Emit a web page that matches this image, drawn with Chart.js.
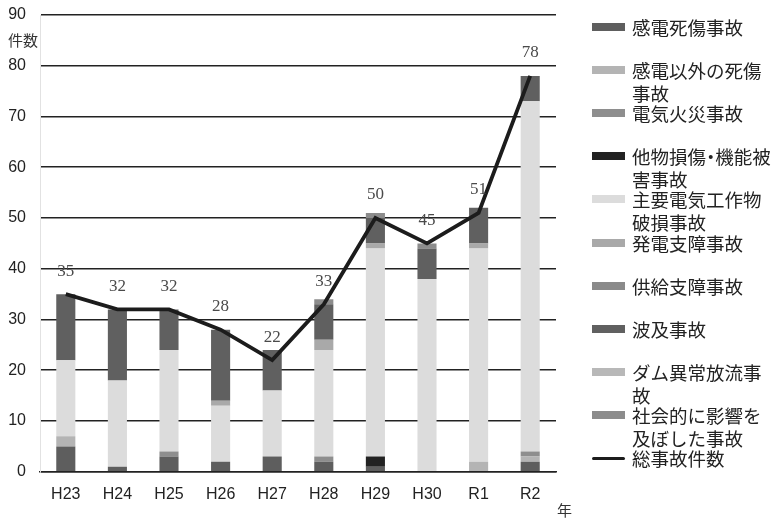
<!DOCTYPE html>
<html lang="ja">
<head>
<meta charset="utf-8">
<script src="https://cdn.jsdelivr.net/npm/chart.js@4.4.1/dist/chart.umd.min.js"></script>
<style>
  html, body { margin: 0; padding: 0; background: #fff; }
  #wrap { position: relative; width: 780px; height: 521px; }
  #legend {
    position: absolute; left: 592px; top: 0; width: 188px;
    font-family: "Noto Sans CJK JP", sans-serif; font-size: 18.5px; color: #222;
  }
  .item { position: absolute; left: 0; line-height: 23px; white-space: nowrap; }
  .swatch { position: absolute; left: 0; top: 7px; width: 33px; height: 8px; }
  .swatch.line { top: 10px; height: 3px; border-radius: 2px; }
  .label { margin-left: 40px; }
  .narrow { margin: 0 -0.25em; }
</style>
</head>
<body>
<div id="wrap">
  <canvas id="accidentChart" width="780" height="521"></canvas>
  <div id="legend"></div>
</div>
<script>
/* ==============================
   DATA
============================== */
const years = ["H23", "H24", "H25", "H26", "H27", "H28", "H29", "H30", "R1", "R2"];

const seriesNames = [
  "感電死傷事故",
  "感電以外の死傷事故",
  "電気火災事故",
  "他物損傷・機能被害事故",
  "主要電気工作物破損事故",
  "発電支障事故",
  "供給支障事故",
  "波及事故",
  "ダム異常放流事故",
  "社会的に影響を及ぼした事故",
];
// legend text with the same line breaks as the original
const legendText = [
  "感電死傷事故",
  "感電以外の死傷<br>事故",
  "電気火災事故",
  "他物損傷<span class=\"narrow\">・</span>機能被<br>害事故",
  "主要電気工作物<br>破損事故",
  "発電支障事故",
  "供給支障事故",
  "波及事故",
  "ダム異常放流事<br>故",
  "社会的に影響を<br>及ぼした事故",
];
const seriesColors = [
  "#5e5e5e", "#b4b4b4", "#8e8e8e", "#222222", "#dcdcdc",
  "#a9a9a9", "#8a8a8a", "#606060", "#b8b8b8", "#8c8c8c",
];

const kanden      = [5, 1, 3, 2, 3, 2, 1, 0, 0, 2];
const kandenIgai  = [2, 0, 0, 0, 0, 0, 0, 0, 2, 1];
const kasai       = [0, 0, 1, 0, 0, 1, 0, 0, 0, 1];
const tabutsu     = [0, 0, 0, 0, 0, 0, 2, 0, 0, 0];
const hason       = [15, 17, 20, 11, 13, 21, 41, 38, 42, 69];
const hatsuden    = [0, 0, 0, 1, 0, 2, 1, 0, 1, 0];
const kyokyu      = [0, 0, 0, 0, 0, 0, 0, 0, 0, 0];
const hakyu       = [13, 14, 8, 14, 8, 7, 5, 6, 7, 5];
const dam         = [0, 0, 0, 0, 0, 0, 0, 0, 0, 0];
const shakai      = [0, 0, 0, 0, 0, 1, 1, 1, 0, 0];
const seriesValues = [kanden, kandenIgai, kasai, tabutsu, hason, hatsuden, kyokyu, hakyu, dam, shakai];

const totalName = "総事故件数";
const total = [35, 32, 32, 28, 22, 33, 50, 45, 51, 78];

const yTicks = [0, 10, 20, 30, 40, 50, 60, 70, 80, 90];

/* ==============================
   EXTRA TEXT (labels on line, axis titles)
============================== */
const extraText = {
  id: "extraText",
  afterDatasetsDraw(chart) {
    const { ctx, chartArea } = chart;
    const lineMeta = chart.getDatasetMeta(seriesValues.length);
    ctx.save();
    ctx.fillStyle = "#4a4a4a";
    ctx.font = '17px "Liberation Serif", serif';
    ctx.textAlign = "center";
    ctx.textBaseline = "middle";
    lineMeta.data.forEach((pt, i) => {
      ctx.fillText(String(total[i]), pt.x, pt.y - 23);
    });

    ctx.fillStyle = "#333";
    ctx.font = '15px "Noto Sans CJK JP", sans-serif';
    ctx.textAlign = "left";
    ctx.fillText("件数", chartArea.left - 32, chartArea.top + 25);
    ctx.fillText("年", chartArea.right + 1, chartArea.bottom + 38);
    ctx.restore();
  },
};

/* ==============================
   CHART
============================== */
const barSets = seriesValues.map((vals, i) => ({
  type: "bar",
  label: seriesNames[i],
  data: vals,
  backgroundColor: seriesColors[i],
  borderWidth: 0,
  stack: "s",
  order: 1,
  barPercentage: 0.74,
  categoryPercentage: 0.5,
}));

new Chart(document.getElementById("accidentChart"), {
  data: {
    labels: years,
    datasets: [
      ...barSets,
      {
        type: "line",
        label: totalName,
        data: total,
        borderColor: "#1c1c1c",
        borderWidth: 3.8,
        pointRadius: 0,
        tension: 0,
        order: 0,
      },
    ],
  },
  options: {
    responsive: false,
    animation: false,
    layout: { padding: { left: 7, right: 224, top: 15, bottom: 4 } },
    scales: {
      x: {
        stacked: true,
        grid: { display: false, drawTicks: false },
        border: { color: "#222", width: 1.6 },
        ticks: {
          padding: 13,
          color: "#222",
          font: { size: 16, family: "Liberation Sans, Arial, sans-serif" },
        },
      },
      y: {
        stacked: true,
        min: 0,
        max: 90,
        afterBuildTicks: (axis) => {
          axis.ticks = yTicks.map((v) => ({ value: v }));
        },
        afterFit: (axis) => {
          axis.width = 33;
          axis.paddingTop = 0;
          axis.paddingBottom = 0;
        },
        grid: { color: "#222", lineWidth: 1.6, drawTicks: false },
        border: { display: true, color: "#e2e2e2", width: 1 },
        ticks: {
          padding: 14,
          color: "#222",
          font: { size: 16, family: "Liberation Sans, Arial, sans-serif" },
        },
      },
    },
    plugins: {
      legend: { display: false },
      tooltip: { enabled: false },
    },
  },
  plugins: [extraText],
});

/* ==============================
   LEGEND (html)
============================== */
const legend = document.getElementById("legend");
const legendItems = seriesNames.map((n, i) => ({ text: legendText[i], color: seriesColors[i], line: false }));
legendItems.push({ text: totalName, color: "#1c1c1c", line: true });

legendItems.forEach((item, i) => {
  const el = document.createElement("div");
  el.className = "item";
  el.style.top = (16 + i * 43.1).toFixed(1) + "px";
  el.innerHTML =
    `<span class="swatch${item.line ? " line" : ""}" style="background:${item.color}"></span>` +
    `<div class="label">${item.text}</div>`;
  legend.appendChild(el);
});
</script>
</body>
</html>
